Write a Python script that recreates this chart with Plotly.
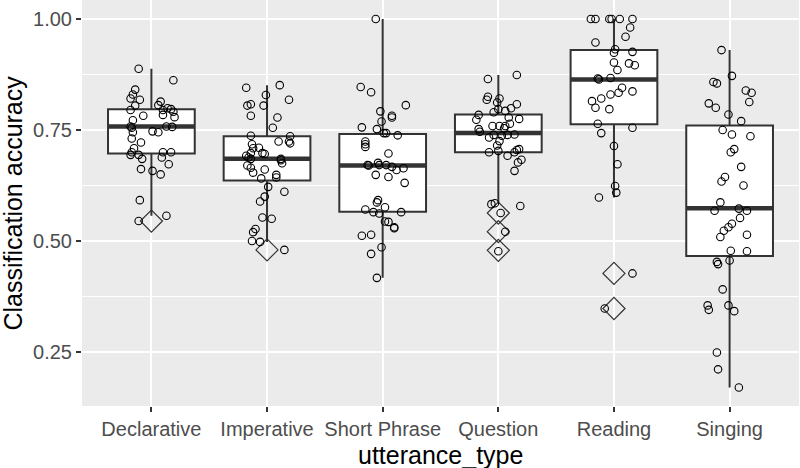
import plotly.graph_objects as go

categories = ["Declarative", "Imperative", "Short Phrase", "Question", "Reading", "Singing"]

# jittered observations (value, horizontal jitter in category units)
decl_vals = [0.888,0.862,0.841,0.830,0.821,0.818,0.805,0.795,0.814,0.806,0.795,0.799,0.797,0.791,0.779,0.784,0.782,0.772,0.758,0.755,0.758,0.757,0.747,0.745,0.745,0.731,0.722,0.709,0.700,0.694,0.694,0.685,0.700,0.700,0.688,0.673,0.662,0.658,0.650,0.592,0.545,0.557]
decl_jit = [-0.11,0.19,-0.14,-0.16,-0.18,-0.10,-0.14,-0.18,0.08,0.06,0.10,0.14,0.17,0.19,0.20,0.10,-0.07,-0.16,-0.18,-0.17,0.13,0.18,0.01,0.06,-0.16,-0.17,-0.09,-0.15,-0.17,-0.18,-0.11,-0.08,0.10,0.17,0.09,0.15,-0.09,0.01,0.08,-0.10,-0.11,0.13]

imp_vals = [0.845,0.851,0.829,0.818,0.805,0.808,0.805,0.782,0.778,0.755,0.737,0.736,0.724,0.720,0.724,0.718,0.709,0.710,0.698,0.696,0.698,0.692,0.688,0.685,0.670,0.665,0.654,0.661,0.685,0.675,0.682,0.641,0.649,0.643,0.622,0.611,0.600,0.589,0.553,0.550,0.527,0.520,0.500,0.498,0.480]
imp_jit = [-0.18,0.11,-0.01,0.19,-0.17,-0.14,-0.03,-0.14,0.09,0.05,-0.14,0.20,0.19,0.20,0.10,-0.13,-0.12,-0.07,-0.04,-0.02,-0.14,-0.18,-0.16,-0.14,-0.17,-0.14,-0.12,-0.02,0.12,0.13,0.12,-0.05,0.08,0.08,0.01,0.15,-0.02,-0.06,-0.04,0.04,-0.10,-0.12,-0.13,-0.06,0.15]

sp_vals = [1.000,0.847,0.835,0.806,0.792,0.782,0.778,0.769,0.756,0.752,0.743,0.743,0.738,0.724,0.718,0.712,0.697,0.671,0.670,0.676,0.671,0.671,0.667,0.660,0.664,0.649,0.644,0.631,0.592,0.587,0.576,0.571,0.565,0.562,0.565,0.544,0.543,0.531,0.529,0.512,0.514,0.486,0.471,0.417]
sp_jit = [-0.06,-0.19,-0.10,0.20,-0.02,0.08,0.08,-0.01,-0.18,-0.05,0.01,0.03,0.13,-0.15,-0.15,-0.15,0.05,-0.13,-0.12,-0.04,-0.03,0.03,0.08,0.12,0.18,-0.06,0.05,0.19,-0.04,-0.05,0.02,-0.15,-0.08,-0.03,0.16,0.02,0.05,0.10,0.10,-0.18,-0.10,-0.01,-0.10,-0.05]

q_vals = [0.865,0.874,0.825,0.818,0.821,0.812,0.808,0.799,0.793,0.790,0.797,0.784,0.773,0.778,0.775,0.764,0.759,0.759,0.759,0.754,0.752,0.746,0.739,0.733,0.737,0.739,0.740,0.725,0.715,0.703,0.700,0.705,0.707,0.700,0.692,0.683,0.677,0.658,0.583,0.585,0.579,0.563,0.521,0.477]
q_jit = [-0.09,0.16,-0.09,-0.10,0.01,-0.01,0.16,0.11,0.06,-0.04,0.00,-0.17,-0.19,0.09,0.18,0.10,-0.05,0.01,0.06,0.05,-0.17,-0.16,-0.04,-0.08,0.03,0.08,0.14,0.01,-0.01,0.00,-0.08,0.16,0.18,0.14,0.08,0.20,0.17,0.14,-0.06,-0.03,0.19,0.02,0.06,0.00]

r_vals = [1.0,1.0,1.0,1.0,1.0,1.0,0.981,0.960,0.947,0.932,0.926,0.924,0.902,0.900,0.896,0.885,0.866,0.864,0.867,0.845,0.834,0.830,0.837,0.821,0.815,0.800,0.797,0.764,0.743,0.755,0.714,0.673,0.624,0.609,0.598,0.427,0.348]
r_jit = [-0.20,-0.16,-0.04,-0.02,0.05,0.16,0.14,0.10,-0.16,0.01,0.16,0.00,0.00,0.13,0.18,0.03,-0.14,-0.13,-0.03,0.07,0.04,-0.03,0.16,-0.11,-0.19,-0.16,-0.04,-0.14,-0.11,0.16,0.00,0.03,0.01,0.02,-0.13,0.16,-0.08]

s_vals = [0.930,0.872,0.858,0.855,0.839,0.834,0.813,0.810,0.800,0.785,0.770,0.750,0.740,0.736,0.700,0.707,0.667,0.644,0.634,0.625,0.587,0.568,0.573,0.568,0.552,0.539,0.531,0.523,0.509,0.514,0.478,0.477,0.453,0.448,0.456,0.391,0.355,0.345,0.355,0.342,0.249,0.211,0.170]
s_jit = [-0.07,0.02,-0.14,-0.11,0.14,0.19,0.17,-0.18,-0.12,-0.01,0.10,-0.06,0.02,0.18,0.01,0.04,0.10,-0.04,-0.07,0.12,-0.08,-0.13,0.08,0.15,0.09,0.02,-0.01,-0.05,-0.08,0.15,0.01,0.15,-0.11,-0.10,0.00,-0.06,-0.19,-0.18,-0.01,0.04,-0.11,-0.10,0.08]

# box statistics per category
box_q1 = [0.697, 0.636, 0.566, 0.700, 0.763, 0.466]
box_median = [0.758, 0.685, 0.670, 0.743, 0.864, 0.574]
box_q3 = [0.797, 0.736, 0.741, 0.785, 0.930, 0.760]
box_lower = [0.557, 0.498, 0.417, 0.585, 0.598, 0.170]
box_upper = [0.888, 0.851, 1.000, 0.874, 1.000, 0.930]

# outliers (category, value)
outlier_cat = ["Declarative", "Imperative", "Question", "Question", "Question", "Reading", "Reading"]
outlier_val = [0.545, 0.480, 0.563, 0.521, 0.479, 0.427, 0.348]

y_ticks = [0.25, 0.50, 0.75, 1.00]
y_tick_labels = ["0.25", "0.50", "0.75", "1.00"]

all_vals = [decl_vals, imp_vals, sp_vals, q_vals, r_vals, s_vals]
all_jit = [decl_jit, imp_jit, sp_jit, q_jit, r_jit, s_jit]

BOX_W = 0.75
DARK = "#333333"
FONT = "Liberation Sans, Arial, sans-serif"
W, H = 800, 468
ML, MR, MT, MB = 82, 1, 0, 62
PW, PH = W - ML - MR, H - MT - MB

fig = go.Figure()

pos = list(range(len(categories)))
fig.add_trace(go.Box(
    x=pos, q1=box_q1, median=box_median, q3=box_q3,
    lowerfence=box_lower, upperfence=box_upper,
    width=BOX_W, whiskerwidth=0, boxpoints=False,
    fillcolor="white", line=dict(color=DARK, width=2),
    hoverinfo="skip",
))

# thick median lines
mx, my = [], []
for i, m in enumerate(box_median):
    mx += [i - BOX_W / 2, i + BOX_W / 2, None]
    my += [m, m, None]
fig.add_trace(go.Scatter(x=mx, y=my, mode="lines",
                         line=dict(color=DARK, width=4.5), hoverinfo="skip"))

# outliers
fig.add_trace(go.Scatter(
    x=[categories.index(c) for c in outlier_cat], y=outlier_val, mode="markers",
    marker=dict(symbol="diamond-open", size=17, color=DARK, line=dict(width=1.2, color=DARK)),
    hoverinfo="skip"))

# jittered points
px, py = [], []
for i, (vals, jit) in enumerate(zip(all_vals, all_jit)):
    px += [i + j for j in jit]
    py += vals
fig.add_trace(go.Scatter(
    x=px, y=py, mode="markers",
    marker=dict(symbol="circle-open", size=7.5, color="black", line=dict(width=1.1, color="black")),
    hoverinfo="skip"))

fig.update_layout(
    width=W, height=H,
    margin=dict(l=ML, r=MR, t=MT, b=MB),
    plot_bgcolor="#EBEBEB", paper_bgcolor="white",
    showlegend=False,
    font=dict(family=FONT),
    annotations=[
        dict(text="utterance_type", xref="paper", yref="paper",
             x=0.5, y=-(455 - PH) / PH, xanchor="center", yanchor="middle",
             showarrow=False, font=dict(size=25, color="black", family=FONT)),
        dict(text="Classification accuracy", xref="paper", yref="paper",
             x=(12.5 - ML) / PW, y=0.5, xanchor="center", yanchor="middle",
             textangle=-90, showarrow=False, font=dict(size=25, color="black", family=FONT)),
    ],
)
fig.update_xaxes(
    range=[-0.6, 5.6], tickvals=pos, ticktext=categories,
    showgrid=True, gridcolor="white", gridwidth=2, zeroline=False,
    ticks="outside", ticklen=5, tickwidth=1.5, tickcolor=DARK,
    tickfont=dict(size=20, color="#4D4D4D", family=FONT),
    automargin=False, showline=False,
)
fig.update_yaxes(
    range=[0.1284, 1.0428], tickvals=y_ticks, ticktext=y_tick_labels,
    showgrid=True, gridcolor="white", gridwidth=2, zeroline=False,
    ticks="outside", ticklen=5, tickwidth=1.5, tickcolor=DARK,
    tickfont=dict(size=20, color="#4D4D4D", family=FONT),
    minor=dict(tickvals=[0.375, 0.625, 0.875], showgrid=True, gridcolor="white", gridwidth=1, ticks=""),
    automargin=False, showline=False,
)

fig.write_html("out.html", config={"displayModeBar": False},
               post_script="document.body.style.margin='0';document.body.style.overflow='hidden';")
